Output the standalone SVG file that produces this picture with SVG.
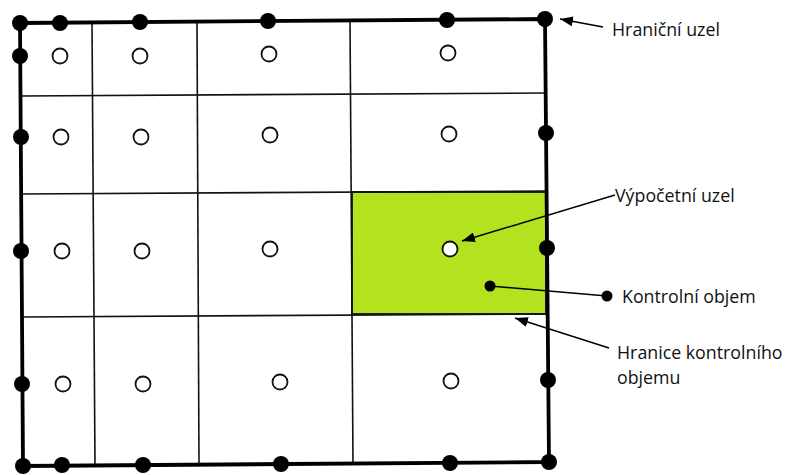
<svg xmlns="http://www.w3.org/2000/svg" width="788" height="475" viewBox="0 0 788 475">
<defs>
<style>
.grid{stroke:#111;stroke-width:1.6;fill:none}
.border{stroke:#000;stroke-width:3.8;fill:none;stroke-linejoin:round}
.bn{fill:#000}
.cn{fill:#fff;stroke:#111;stroke-width:1.8}
.lead{stroke:#000;stroke-width:1.4;fill:none}
.lbl{font-family:"Open Sans","Noto Sans",sans-serif;font-size:17.8px;fill:#111}
</style>
<marker id="ah" markerUnits="userSpaceOnUse" markerWidth="14" markerHeight="10" refX="13" refY="5" orient="auto">
<path d="M0,0 L13,5 L0,10 Z" fill="#000"/>
</marker>
</defs>
<rect width="788" height="475" fill="#fff"/>
<g id="control-volume">
<rect x="352" y="192" width="194" height="122" fill="#b3e21e" stroke="#111" stroke-width="1.8"/>
</g>
<g id="grid">
<line class="grid" x1="21" y1="96" x2="546" y2="93"/>
<line class="grid" x1="21" y1="194" x2="546" y2="191"/>
<line class="grid" x1="22" y1="317" x2="547" y2="314"/>
<line class="grid" x1="92" y1="23" x2="95" y2="465"/>
<line class="grid" x1="197" y1="22" x2="199" y2="464"/>
<line class="grid" x1="350" y1="21" x2="353" y2="463"/>
<path class="border" d="M20,23 L545,19 L549,462 L23,466 Z"/>
</g>
<g id="boundary-nodes">
<circle class="bn" cx="20" cy="23" r="8"/>
<circle class="bn" cx="60" cy="23" r="8"/>
<circle class="bn" cx="140" cy="22" r="8"/>
<circle class="bn" cx="268" cy="21" r="8"/>
<circle class="bn" cx="447" cy="20" r="8"/>
<circle class="bn" cx="545" cy="19" r="8"/>
<circle class="bn" cx="20" cy="56" r="8"/>
<circle class="bn" cx="21" cy="137" r="8"/>
<circle class="bn" cx="21" cy="251" r="8"/>
<circle class="bn" cx="22" cy="384" r="8"/>
<circle class="bn" cx="23" cy="466" r="8"/>
<circle class="bn" cx="62" cy="465" r="8"/>
<circle class="bn" cx="143" cy="465" r="8"/>
<circle class="bn" cx="281" cy="464" r="8"/>
<circle class="bn" cx="450" cy="463" r="8"/>
<circle class="bn" cx="549" cy="462" r="8"/>
<circle class="bn" cx="546" cy="133" r="8"/>
<circle class="bn" cx="547" cy="248" r="8"/>
<circle class="bn" cx="548" cy="380" r="8"/>
</g>
<g id="computational-nodes">
<circle class="cn" cx="60" cy="56" r="7.5"/>
<circle class="cn" cx="140" cy="56" r="7.5"/>
<circle class="cn" cx="269" cy="54" r="7.5"/>
<circle class="cn" cx="448" cy="53" r="7.5"/>
<circle class="cn" cx="61" cy="137" r="7.5"/>
<circle class="cn" cx="141" cy="137" r="7.5"/>
<circle class="cn" cx="270" cy="135" r="7.5"/>
<circle class="cn" cx="449" cy="134" r="7.5"/>
<circle class="cn" cx="62" cy="251" r="7.5"/>
<circle class="cn" cx="142" cy="251" r="7.5"/>
<circle class="cn" cx="270" cy="249" r="7.5"/>
<circle class="cn" cx="450" cy="249" r="7.5" stroke-width="2.8"/>
<circle class="cn" cx="63" cy="384" r="7.5"/>
<circle class="cn" cx="143" cy="384" r="7.5"/>
<circle class="cn" cx="280" cy="382" r="7.5"/>
<circle class="cn" cx="451" cy="381" r="7.5"/>
</g>
<g id="connectors">
<line class="lead" x1="603" y1="27" x2="560" y2="19" marker-end="url(#ah)"/>
<line class="lead" x1="615" y1="195" x2="462" y2="241" marker-end="url(#ah)"/>
<line class="lead" x1="490" y1="286" x2="607" y2="296"/>
<circle cx="490" cy="286" r="5.5" fill="#000"/>
<circle cx="607" cy="296" r="5.5" fill="#000"/>
<line class="lead" x1="609" y1="348" x2="515" y2="318" marker-end="url(#ah)"/>
</g>
<g id="label-hranicni-uzel"><text class="lbl" x="612" y="36">Hraniční uzel</text></g>
<g id="label-vypocetni-uzel"><text class="lbl" x="615" y="202">Výpočetní uzel</text></g>
<g id="label-kontrolni-objem"><text class="lbl" x="622" y="303">Kontrolní objem</text></g>
<g id="label-hranice"><text class="lbl" x="617" y="359">Hranice kontrolního<tspan x="617" y="384">objemu</tspan></text></g>
</svg>
